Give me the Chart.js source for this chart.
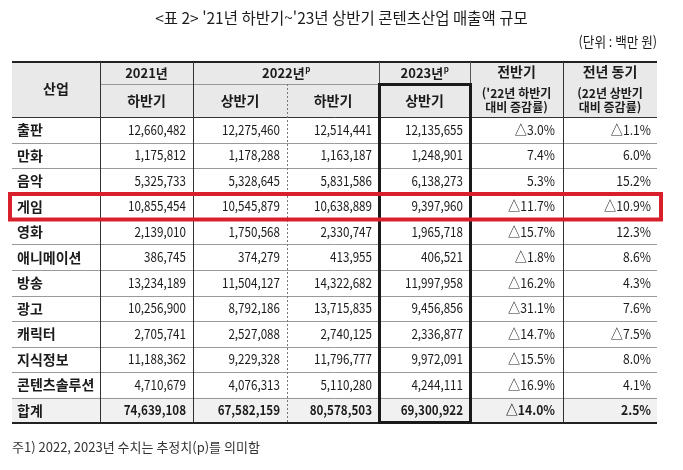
<!DOCTYPE html>
<html lang="ko">
<head>
<meta charset="utf-8">
<script src="https://cdn.jsdelivr.net/npm/chart.js@4/dist/chart.umd.min.js"></script>
<style>
  html, body { margin: 0; padding: 0; background: #fff; }
  #wrap { width: 683px; height: 470px; }
</style>
</head>
<body>
<div id="wrap"><canvas id="chart" width="683" height="470"></canvas></div>
<script>
// 산업별 매출액 (단위: 백만 원)
const industries = ["출판", "만화", "음악", "게임", "영화", "애니메이션", "방송", "광고", "캐릭터", "지식정보", "콘텐츠솔루션", "합계"];
const h2y2021 = [12660482, 1175812, 5325733, 10855454, 2139010, 386745, 13234189, 10256900, 2705741, 11188362, 4710679, 74639108];
const h1y2022 = [12275460, 1178288, 5328645, 10545879, 1750568, 374279, 11504127, 8792186, 2527088, 9229328, 4076313, 67582159];
const h2y2022 = [12514441, 1163187, 5831586, 10638889, 2330747, 413955, 14322682, 13715835, 2740125, 11796777, 5110280, 80578503];
const h1y2023 = [12135655, 1248901, 6138273, 9397960, 1965718, 406521, 11997958, 9456856, 2336877, 9972091, 4244111, 69300922];
const changeHalf = [-3.0, 7.4, 5.3, -11.7, -15.7, -1.8, -16.2, -31.1, -14.7, -15.5, -16.9, -14.0];
const changeYear = [-1.1, 6.0, 15.2, -10.9, 12.3, 8.6, 4.3, 7.6, -7.5, 8.0, 4.1, 2.5];

const titleText = "<표 2> '21년 하반기~'23년 상반기 콘텐츠산업 매출액 규모";
const unitText = "(단위 : 백만 원)";
const noteText = "주1) 2022, 2023년 수치는 추정치(p)를 의미함";
const highlightRow = "게임";

// 표 배치 (축 단위)
const colEdges = [0, 88, 181, 275, 367, 458, 551, 645];
const headTop = 0, headMid = 22, headBottom = 55, rowH = 25.5;
const FONT = "'Noto Sans CJK KR', 'Noto Sans', sans-serif";

const fmtNum = v => v.toLocaleString("en-US");
const fmtPct = v => (v < 0 ? "△" + Math.abs(v).toFixed(1) : v.toFixed(1)) + "%";

const valueCols = [h2y2021, h1y2022, h2y2022, h1y2023];
const rowTop = i => headBottom + i * rowH;

const tablePlugin = {
    id: "tablePlugin",
    beforeDraw(chart) {
        const ctx = chart.ctx;
        const xs = chart.scales.x, ys = chart.scales.y;
        const X = v => xs.getPixelForValue(v);
        const Y = v => ys.getPixelForValue(v);
        const left = X(colEdges[0]), right = X(colEdges[7]);

        ctx.save();
        ctx.fillStyle = "#fff";
        ctx.fillRect(0, 0, chart.width, chart.height);

        // 머리글, 합계 배경
        ctx.fillStyle = "#e9e9e9";
        ctx.fillRect(left, Y(headTop), right - left, Y(headBottom) - Y(headTop));
        ctx.fillStyle = "#f1f1f1";
        const last = industries.length - 1;
        ctx.fillRect(left, Y(rowTop(last)), right - left, Y(rowTop(last + 1)) - Y(rowTop(last)));

        const hline = (x0, x1, y, w, c) => {
            ctx.beginPath();
            ctx.lineWidth = w; ctx.strokeStyle = c;
            ctx.moveTo(X(x0), Math.round(Y(y)) + (w % 2 ? 0.5 : 0));
            ctx.lineTo(X(x1), Math.round(Y(y)) + (w % 2 ? 0.5 : 0));
            ctx.stroke();
        };
        const vline = (x, y0, y1, w, c, dash) => {
            ctx.beginPath();
            ctx.lineWidth = w; ctx.strokeStyle = c;
            ctx.setLineDash(dash || []);
            ctx.moveTo(Math.round(X(x)) + 0.5, Y(y0));
            ctx.lineTo(Math.round(X(x)) + 0.5, Y(y1));
            ctx.stroke();
            ctx.setLineDash([]);
        };

        const tableBottom = rowTop(industries.length);
        for (let i = 1; i < industries.length; i++) {
            hline(colEdges[0], colEdges[7], rowTop(i), 1, "#9a9a9a");
        }
        hline(colEdges[1], colEdges[4], headMid, 1, "#9a9a9a");
        hline(colEdges[0], colEdges[7], headBottom, 1, "#333");
        hline(colEdges[0], colEdges[7], headTop, 2, "#222");
        hline(colEdges[0], colEdges[7], tableBottom, 2, "#222");

        vline(colEdges[1], headTop, tableBottom, 1, "#333");
        vline(colEdges[2], headTop, tableBottom, 1, "#333");
        vline(colEdges[3], headMid, tableBottom, 1, "#777", [2, 2]);
        vline(colEdges[4], headTop, headMid, 1, "#555");
        vline(colEdges[5], headTop, headMid, 1, "#555");
        vline(colEdges[6], headTop, tableBottom, 1, "#333");

        // 2023년 상반기 강조 테두리
        ctx.lineWidth = 3;
        ctx.strokeStyle = "#1a1a1a";
        ctx.strokeRect(X(colEdges[4]) + 0.5, Y(headMid) + 0.5, X(colEdges[5]) - X(colEdges[4]), Y(tableBottom) - Y(headMid) - 1);

        // 글자
        ctx.fillStyle = "#1b1b1b";
        ctx.textBaseline = "middle";
        const text = (s, x, y, align, size, bold, squeeze) => {
            ctx.font = (bold ? "bold " : "") + size + "px " + FONT;
            ctx.textAlign = align;
            if (squeeze) {
                ctx.fillText(s, x, y, ctx.measureText(s).width * squeeze);
            } else {
                ctx.fillText(s, x, y);
            }
        };
        const centerX = (a, b) => (X(colEdges[a]) + X(colEdges[b])) / 2;
        const supText = (s, cx, y) => {
            ctx.font = "bold 13px " + FONT;
            const w = ctx.measureText(s).width;
            ctx.font = "bold 8px " + FONT;
            const pw = ctx.measureText("p").width;
            const x0 = cx - (w + pw) / 2;
            text(s, x0, y, "left", 13, true);
            text("p", x0 + w + 0.5, y - 4, "left", 8, true);
        };

        const hm = (Y(headTop) + Y(headMid)) / 2;
        const hb = (Y(headMid) + Y(headBottom)) / 2;
        text("산업", centerX(0, 1), (Y(headTop) + Y(headBottom)) / 2 - 1, "center", 14, true);
        text("2021년", centerX(1, 2), hm, "center", 13, true);
        supText("2022년", centerX(2, 4), hm);
        supText("2023년", centerX(4, 5), hm);
        text("하반기", centerX(1, 2), hb, "center", 14, true);
        text("상반기", centerX(2, 3), hb, "center", 14, true);
        text("하반기", centerX(3, 4), hb, "center", 14, true);
        text("상반기", centerX(4, 5), hb, "center", 14, true);
        text("전반기", centerX(5, 6), hm - 1, "center", 14, true);
        text("('22년 하반기", centerX(5, 6), hm + 20, "center", 12, true);
        text("대비 증감률)", centerX(5, 6), hm + 34, "center", 12, true);
        text("전년 동기", centerX(6, 7), hm - 1, "center", 14, true);
        text("(22년 상반기", centerX(6, 7), hm + 20, "center", 12, true);
        text("대비 증감률)", centerX(6, 7), hm + 34, "center", 12, true);

        industries.forEach((name, i) => {
            const cy = (Y(rowTop(i)) + Y(rowTop(i + 1))) / 2;
            const bold = i === industries.length - 1;
            text(name, X(colEdges[0]) + 5, cy, "left", 14, true);
            valueCols.forEach((col, c) => {
                text(fmtNum(col[i]), X(colEdges[c + 2]) - 7, cy, "right", 13.5, bold, 0.86);
            });
            text(fmtPct(changeHalf[i]), X(colEdges[6]) - 8, cy, "right", 13.5, bold, 0.9);
            text(fmtPct(changeYear[i]), X(colEdges[7]) - 6, cy, "right", 13.5, bold, 0.9);
        });

        // 제목, 단위, 주석
        text(titleText, chart.width / 2, 18, "center", 15.5, false);
        text(unitText, right, 42, "right", 14, false, 0.9);
        ctx.fillStyle = "#333";
        text(noteText, left, 447, "left", 13, false);
        ctx.restore();
    },
    afterDraw(chart) {
        // 게임 행 빨간 테두리
        const ctx = chart.ctx;
        const xs = chart.scales.x, ys = chart.scales.y;
        const i = industries.indexOf(highlightRow);
        const x0 = xs.getPixelForValue(colEdges[0]) - 2;
        const x1 = xs.getPixelForValue(colEdges[7]) + 4;
        const y0 = ys.getPixelForValue(rowTop(i)) + 0.5;
        const y1 = ys.getPixelForValue(rowTop(i + 1)) + 0.5;
        ctx.save();
        ctx.lineWidth = 4;
        ctx.strokeStyle = "#d8202c";
        ctx.strokeRect(x0, y0, x1 - x0, y1 - y0);
        ctx.restore();
    }
};

new Chart("chart", {
    type: "scatter",
    data: {
        datasets: [{
            data: industries.map((_, i) => ({ x: colEdges[0], y: rowTop(i) })),
            pointRadius: 0,
            pointHoverRadius: 0
        }]
    },
    options: {
        responsive: false,
        animation: false,
        events: [],
        layout: { padding: { left: 12, right: 26, top: 62, bottom: 47 } },
        plugins: { legend: { display: false }, tooltip: { enabled: false } },
        scales: {
            x: { type: "linear", display: false, min: colEdges[0], max: colEdges[7] },
            y: { type: "linear", display: false, reverse: true, min: headTop, max: rowTop(industries.length) }
        }
    },
    plugins: [tablePlugin]
});
</script>
</body>
</html>
